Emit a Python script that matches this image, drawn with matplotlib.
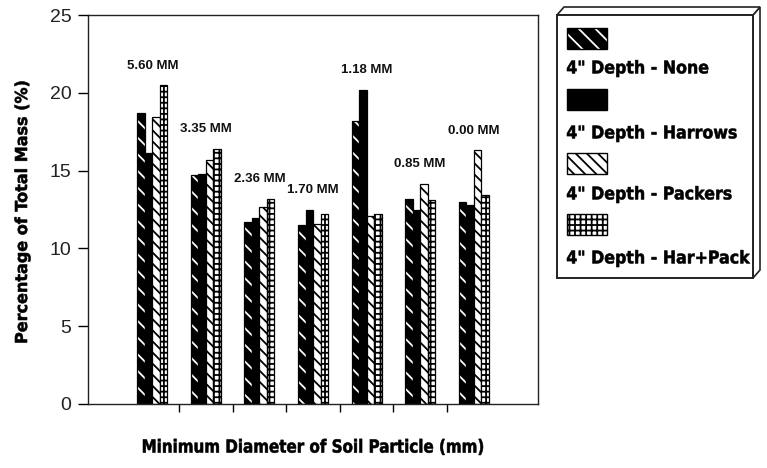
import numpy as np
import matplotlib
matplotlib.use("Agg")
import matplotlib.pyplot as plt
from matplotlib.patches import Rectangle, Polygon, PathPatch
from matplotlib.textpath import TextPath
from matplotlib.font_manager import FontProperties
from matplotlib.transforms import Affine2D

# Data
sizes = ["5.60 MM", "3.35 MM", "2.36 MM", "1.70 MM", "1.18 MM", "0.85 MM", "0.00 MM"]
none_vals = [18.7, 14.7, 11.7, 11.5, 18.2, 13.2, 13.0]
harrows_vals = [16.1, 14.8, 11.95, 12.5, 20.2, 12.5, 12.8]
packers_vals = [18.45, 15.7, 12.65, 11.6, 12.1, 14.15, 16.3]
harpack_vals = [20.5, 16.4, 13.2, 12.2, 12.2, 13.1, 13.4]
series_names = ['4" Depth - None', '4" Depth - Harrows',
                '4" Depth - Packers', '4" Depth - Har+Pack']
y_ticks = [0, 5, 10, 15, 20, 25]

W, H = 767, 468
plt.rcParams['hatch.linewidth'] = 1.3

fig = plt.figure(figsize=(W / 100, H / 100), dpi=100)
ax = fig.add_axes([88 / W, 1 - 404 / H, (538 - 88) / W, (404 - 15) / H])

x = np.arange(len(sizes))
bw = 0.14

# (values, face colour, hatch colour, hatch)
styles = [
    (none_vals, 'black', 'white', '\\\\'),
    (harrows_vals, 'black', 'black', None),
    (packers_vals, 'white', 'black', '\\\\\\'),
    (harpack_vals, 'white', 'black', '+++'),
]

for k, (vals, fc, hc, hatch) in enumerate(styles):
    pos = x + (k - 1.5) * bw
    ax.bar(pos, vals, bw, color=fc, edgecolor=hc, hatch=hatch, linewidth=0)
    ax.bar(pos, vals, bw, fill=False, edgecolor='black', linewidth=0.9)

# size labels above each group
tops = np.max([none_vals, harrows_vals, packers_vals, harpack_vals], axis=0)
for i, lab in enumerate(sizes):
    ax.text(x[i], tops[i] + 1.25, lab, ha='center', va='center',
            fontsize=9.5, fontweight='bold', family='Liberation Sans', color='#111111')

ax.set_xlim(-1.2, 7.2)
ax.set_ylim(0, 25)
ax.set_yticks(y_ticks)
ax.set_xticks(np.arange(0.5, 6, 1))
ax.set_xticklabels([])
ax.tick_params(axis='y', direction='out', length=7, width=1, pad=5,
               labelsize=14, labelcolor='#222222')
ax.tick_params(axis='x', direction='out', length=6, width=1)
for lbl in ax.get_yticklabels():
    lbl.set_family('Liberation Sans')
for sp in ax.spines.values():
    sp.set_linewidth(1.0)
    sp.set_color('#222222')

# condensed heavy text: no narrow font installed, so squeeze a text path
bold = FontProperties(family='DejaVu Sans', weight='bold')

def narrow_text(s, xp, yp, em, sx, rotation=0, ha='left'):
    tp = TextPath((0, 0), s, size=em, prop=bold)
    bb = tp.get_extents()
    x0 = bb.x0 if ha == 'left' else bb.x0 + bb.width / 2
    tr = (Affine2D().translate(-x0, -0.365 * em).scale(sx, 1)
          .rotate_deg(rotation).translate(xp, H - yp))
    fig.add_artist(PathPatch(tp, transform=tr, facecolor='black',
                             edgecolor='black', lw=0.4))

def width_of(s, em):
    return TextPath((0, 0), s, size=em, prop=bold).get_extents().width

narrow_text('Percentage of Total Mass (%)', 21, 212, 16.5,
            261 / width_of('Percentage of Total Mass (%)', 16.5), rotation=90, ha='center')
narrow_text('Minimum Diameter of Soil Particle (mm)', 313, 446, 18,
            340 / width_of('Minimum Diameter of Soil Particle (mm)', 18), ha='center')

# legend box drawn by hand, with a 3D edge
def px(xp, yp):
    return (xp / W, 1 - yp / H)

side = Polygon([px(753, 15), px(760, 7), px(760, 270), px(753, 278)],
               closed=True, facecolor='white', edgecolor='#222222', lw=1.2,
               transform=fig.transFigure)
top = Polygon([px(557, 15), px(564, 7), px(760, 7), px(753, 15)],
              closed=True, facecolor='white', edgecolor='#222222', lw=1.2,
              transform=fig.transFigure)
front = Rectangle(px(557, 278), 196 / W, 263 / H, facecolor='white',
                  edgecolor='#222222', lw=1.4, transform=fig.transFigure)
for p in (side, top, front):
    fig.add_artist(p)

patch_y = [28, 89, 153, 214]
text_y = [67, 132, 193, 257]
leg_sx = 183 / width_of(series_names[3], 17.5)
for k, (vals, fc, hc, hatch) in enumerate(styles):
    r = Rectangle(px(567, patch_y[k] + 21), 40 / W, 21 / H, facecolor=fc,
                  edgecolor=hc, hatch=hatch, lw=0, transform=fig.transFigure)
    fig.add_artist(r)
    r2 = Rectangle(px(567, patch_y[k] + 21), 40 / W, 21 / H, fill=False,
                   edgecolor='black', lw=1.0, transform=fig.transFigure)
    fig.add_artist(r2)
    narrow_text(series_names[k], 567, text_y[k], 17.5, leg_sx)

fig.savefig('out.png', dpi=100)
